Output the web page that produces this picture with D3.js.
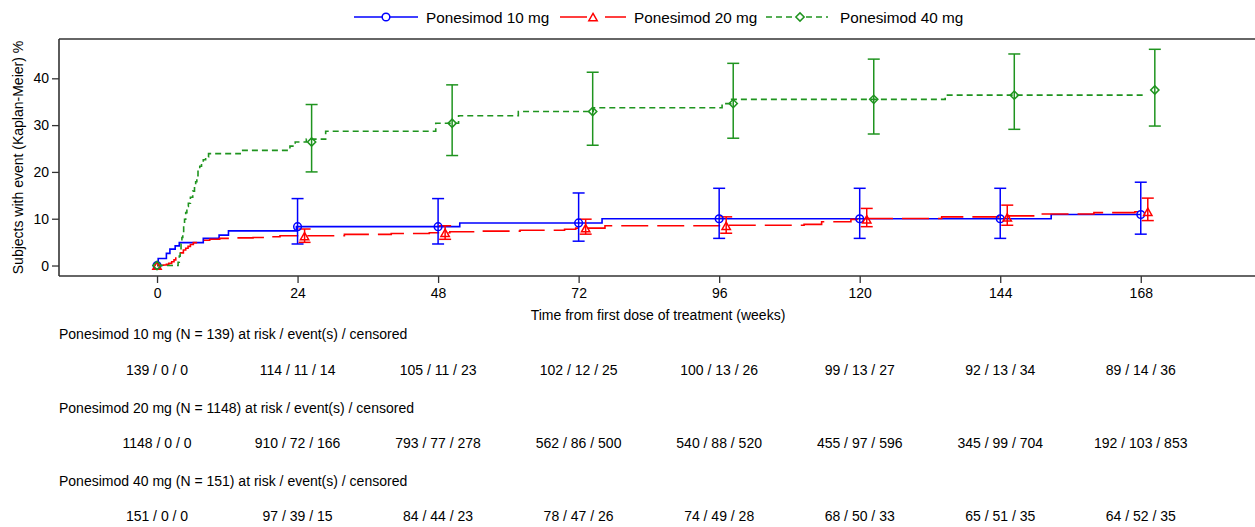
<!DOCTYPE html>
<html>
<head>
<meta charset="utf-8">
<script src="https://cdn.jsdelivr.net/npm/d3@7"></script>
<style>
  html, body { margin: 0; padding: 0; background: #fff; }
  svg { display: block; font-family: "Liberation Sans", Arial, sans-serif; }
</style>
</head>
<body>
<svg id="chart" width="1255" height="527"></svg>
<script>
// ---- data -------------------------------------------------------------
const seriesNames = ["Ponesimod 10 mg", "Ponesimod 20 mg", "Ponesimod 40 mg"];
const seriesN = [139, 1148, 151];
const xTicks = [0, 24, 48, 72, 96, 120, 144, 168];
const yTicks = [0, 10, 20, 30, 40];
const xTitle = "Time from first dose of treatment (weeks)";
const yTitle = "Subjects with event (Kaplan-Meier) %";

// Kaplan-Meier cumulative event steps: [week, %]
const km10 = [[0,0],[0.2,1.5],[1.6,2.6],[2.2,3.5],[3.1,4.2],[3.8,4.9],[7.9,5.8],[10.6,6.5],
  [12.2,7.4],[23.8,8.3],[51.7,9.1],[76,10.0],[152.7,10.9]];
const km20 = [[0,0],[0.6,0.05],[1.1,0.1],[1.6,0.25],[2.0,0.45],[2.5,0.8],[2.9,1.2],[3.2,1.6],
  [3.6,2.2],[4.0,2.7],[4.5,3.3],[4.9,3.7],[5.3,4.1],[5.7,4.5],[6.2,4.9],[7.0,5.15],[7.9,5.4],
  [9.0,5.6],[10.7,5.8],[13.0,5.9],[16.4,6.0],[19.0,6.15],[21.0,6.35],[32,6.65],[40,6.85],
  [46.5,7.0],[50,7.2],[55,7.35],[62,7.55],[69.6,7.75],[71.5,8.0],[76.5,8.5],[97,8.6],
  [110.5,8.8],[113.5,9.35],[118.5,9.85],[120.5,10.05],[134,10.4],[145.5,10.6],[150.5,11.0],
  [160,11.3],[167,11.5]];
const km40 = [[0,0],[3.6,0.7],[3.8,2.0],[3.95,3.3],[4.1,4.6],[4.25,6.0],[4.4,7.3],[4.55,8.6],
  [4.7,9.9],[4.9,11.3],[5.1,12.6],[5.35,13.3],[5.7,14.6],[6.1,15.9],[6.4,16.6],[6.6,17.9],
  [6.8,19.2],[7.0,20.5],[7.3,21.2],[7.6,21.9],[7.9,22.6],[8.3,23.2],[8.8,23.9],[14.2,24.6],
  [22.7,25.5],[23.6,26.4],[25.5,27.0],[28.8,28.7],[47.6,30.4],[51.5,32.0],[61.7,32.9],
  [74.5,33.7],[96.5,34.6],[98,35.5],[134.6,36.4]];
const lastWeek = [168, 169, 169];

// estimates with 95% confidence limits at the scheduled weeks (xTicks)
const est10 = [0, 8.3, 8.3, 9.1, 10.0, 10.0, 10.0, 10.9];
const lo10  = [0, 4.6, 4.6, 5.2, 5.8, 5.8, 5.8, 6.7];
const hi10  = [0, 14.3, 14.3, 15.5, 16.5, 16.5, 16.5, 17.8];
const est20 = [0, 6.3, 7.0, 8.0, 8.5, 9.9, 10.3, 11.5];
const lo20  = [0, 4.95, 5.6, 6.7, 6.9, 8.3, 8.6, 9.6];
const hi20  = [0, 7.8, 8.5, 9.9, 10.4, 12.2, 12.9, 14.4];
const est40 = [0, 26.4, 30.4, 32.9, 34.6, 35.5, 36.4, 37.5];
const lo40  = [0, 20.0, 23.5, 25.7, 27.2, 28.1, 29.1, 29.8];
const hi40  = [0, 34.4, 38.6, 41.3, 43.2, 44.1, 45.2, 46.2];

// number at risk / events / censored at the scheduled weeks
const risk10 = ["139 / 0 / 0","114 / 11 / 14","105 / 11 / 23","102 / 12 / 25","100 / 13 / 26","99 / 13 / 27","92 / 13 / 34","89 / 14 / 36"];
const risk20 = ["1148 / 0 / 0","910 / 72 / 166","793 / 77 / 278","562 / 86 / 500","540 / 88 / 520","455 / 97 / 596","345 / 99 / 704","192 / 103 / 853"];
const risk40 = ["151 / 0 / 0","97 / 39 / 15","84 / 44 / 23","78 / 47 / 26","74 / 49 / 28","68 / 50 / 33","65 / 51 / 35","64 / 52 / 35"];

// ---- styling ---------------------------------------------------------
const colors = ["#0000ff", "#ff0000", "#1f941f"];
const dashes = [null, "27,9", "6,4"];
const markerShift = [0, 1.2, 2.4];   // weeks; separates overlapping error bars
const FONT = 14;
const LEGEND_FONT = 15.3;

const svg = d3.select("#chart");
const plot = { left: 59, right: 1257, top: 39, bottom: 276 };

const x = d3.scaleLinear().domain([-16.74, 187.85]).range([plot.left, plot.right]);
const y = d3.scaleLinear().domain([-2.24, 48.4]).range([plot.bottom, plot.top]);

const kmData = [km10, km20, km40];
const estData = [est10, est20, est40];
const loData = [lo10, lo20, lo40];
const hiData = [hi10, hi20, hi40];
const riskData = [risk10, risk20, risk40];

// ---- markers ---------------------------------------------------------
function markerPath(i) {
  if (i === 0) return d3.symbol(d3.symbolCircle, 46)();
  if (i === 1) return d3.symbol(d3.symbolTriangle, 30)();
  return d3.symbol(d3.symbolSquare, 34)();
}
function markerTransform(i, px, py) {
  if (i === 1) return `translate(${px},${py + 1.3})`;
  if (i === 2) return `translate(${px},${py}) rotate(45)`;
  return `translate(${px},${py})`;
}

// ---- axes frame ------------------------------------------------------
const frameColor = "#333";
svg.append("line").attr("x1", plot.left).attr("x2", plot.right)
  .attr("y1", plot.top).attr("y2", plot.top)
  .attr("stroke", frameColor).attr("stroke-width", 1.6);

const xAxis = d3.axisBottom(x).tickValues(xTicks).tickSize(7).tickSizeOuter(0).tickPadding(5);
const gx = svg.append("g").attr("transform", `translate(0,${plot.bottom})`).call(xAxis);
const yAxis = d3.axisLeft(y).tickValues(yTicks).tickSize(7).tickSizeOuter(0).tickPadding(3);
const gy = svg.append("g").attr("transform", `translate(${plot.left},0)`).call(yAxis);
[gx, gy].forEach(g => {
  g.select(".domain").attr("stroke", frameColor).attr("stroke-width", 1.6);
  g.selectAll(".tick line").attr("stroke", frameColor).attr("stroke-width", 1.3);
  g.selectAll(".tick text").attr("fill", "#000").style("font-size", FONT + "px")
    .style("font-family", '"Liberation Sans", Arial, sans-serif');
});
// extend the axis lines to the full frame
gx.select(".domain").attr("d", `M${plot.left},0H${plot.right}`);
gy.select(".domain").attr("d", `M0,${plot.top}V${plot.bottom}`);

svg.append("text").attr("x", (plot.left + plot.right) / 2).attr("y", 320)
  .attr("text-anchor", "middle").style("font-size", FONT + "px").text(xTitle);
svg.append("text")
  .attr("transform", `translate(23,${(plot.top + plot.bottom) / 2}) rotate(-90)`)
  .attr("text-anchor", "middle").style("font-size", FONT + "px").text(yTitle);

// ---- curves ----------------------------------------------------------
const plotG = svg.append("g");
const stepLine = d3.line().x(d => x(d[0])).y(d => y(d[1])).curve(d3.curveStepAfter);

kmData.forEach((km, i) => {
  const pts = km.concat([[lastWeek[i], km[km.length - 1][1]]]);
  plotG.append("path").attr("d", stepLine(pts))
    .attr("fill", "none").attr("stroke", colors[i]).attr("stroke-width", 1.6)
    .attr("stroke-dasharray", dashes[i]);
});

// ---- error bars and markers -----------------------------------------
const capHalf = 6;
estData.forEach((est, i) => {
  const g = plotG.append("g");
  xTicks.forEach((wk, j) => {
    const px = x(wk + (wk > 0 ? markerShift[i] : 0));
    if (hiData[i][j] > loData[i][j]) {
      const yl = y(loData[i][j]), yh = y(hiData[i][j]);
      g.append("line").attr("x1", px).attr("x2", px).attr("y1", yl).attr("y2", yh)
        .attr("stroke", colors[i]).attr("stroke-width", 1.5);
      [yl, yh].forEach(yy => g.append("line").attr("x1", px - capHalf).attr("x2", px + capHalf)
        .attr("y1", yy).attr("y2", yy).attr("stroke", colors[i]).attr("stroke-width", 1.5));
    }
  });
});
estData.forEach((est, i) => {
  xTicks.forEach((wk, j) => {
    const px = x(wk + (wk > 0 ? markerShift[i] : 0));
    plotG.append("path").attr("d", markerPath(i))
      .attr("transform", markerTransform(i, px, y(est[j])))
      .attr("fill", "none").attr("stroke", colors[i]).attr("stroke-width", 1.5);
  });
});

// ---- legend ----------------------------------------------------------
const legendItems = [
  { x1: 354, x2: 418, mx: 386, tx: 426 },
  { x1: 560, x2: 626, mx: 593, tx: 634 },
  { x1: 766, x2: 828, mx: 800, tx: 840 }
];
const legendDash = [null, "27,18", "6,4"];
const legY = 17;
legendItems.forEach((it, i) => {
  const g = svg.append("g");
  g.append("line").attr("x1", it.x1).attr("x2", it.x2).attr("y1", legY).attr("y2", legY)
    .attr("stroke", colors[i]).attr("stroke-width", 1.6).attr("stroke-dasharray", legendDash[i]);
  g.append("path").attr("d", markerPath(i)).attr("transform", markerTransform(i, it.mx, legY))
    .attr("fill", "#fff").attr("stroke", colors[i]).attr("stroke-width", 1.5);
  g.append("text").attr("x", it.tx).attr("y", legY + 5.5).style("font-size", LEGEND_FONT + "px")
    .text(seriesNames[i]);
});

// ---- at-risk table ---------------------------------------------------
const rowLabelY = [339, 413, 486];
const rowValueY = [375, 448, 521];
riskData.forEach((row, i) => {
  svg.append("text").attr("x", plot.left).attr("y", rowLabelY[i]).style("font-size", FONT + "px")
    .text(`${seriesNames[i]} (N = ${seriesN[i]}) at risk / event(s) / censored`);
  svg.append("g").selectAll("text").data(row).join("text")
    .attr("x", (d, j) => x(xTicks[j])).attr("y", rowValueY[i])
    .attr("text-anchor", "middle").style("font-size", FONT + "px").text(d => d);
});
</script>
</body>
</html>
